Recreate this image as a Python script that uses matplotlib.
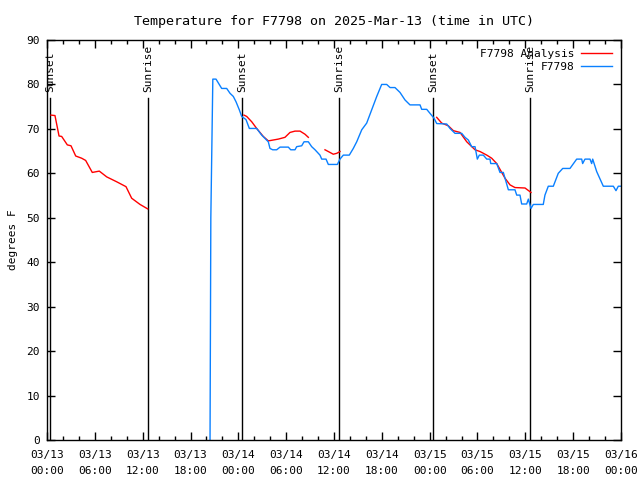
import matplotlib
matplotlib.use("Agg")
import matplotlib.pyplot as plt
import numpy as np

# hours since 03/13 00:00 UTC, temperatures in degrees F
analysis_hours = [0.50, 1.00, 1.51, 1.84, 2.55, 3.01, 3.60, 4.35, 4.85, 5.68, 6.56, 7.49, 8.74,
                  9.91, 10.62, 11.67, 12.63, np.nan,
                  24.71, 25.05, 25.68, 26.30, 27.13, 27.76, 28.39, 29.01, 29.85, 30.48, 31.11,
                  31.74, 32.36, 32.78, np.nan,
                  34.87, 35.50, 35.91, 36.34, 36.75, np.nan,
                  48.88, 49.51, 50.34, 50.97, 51.81, 52.65, 53.69, 54.32, 55.16, 55.78, 56.41,
                  56.82, 57.45, 58.08, 58.70, 59.96, 60.71]
analysis_temp = [73.1, 73.0, 68.4, 68.3, 66.4, 66.2, 63.9, 63.4, 62.9, 60.2, 60.5, 59.2, 58.1,
                 57.0, 54.4, 53.0, 52.0, np.nan,
                 73.1, 72.8, 71.6, 70.1, 68.3, 67.3, 67.5, 67.7, 68.1, 69.2, 69.5,
                 69.5, 68.8, 68.1, np.nan,
                 65.3, 64.7, 64.3, 64.5, 64.9, np.nan,
                 72.6, 71.3, 70.7, 69.6, 69.2, 67.1, 65.3, 64.9, 64.1, 63.4, 62.2,
                 60.9, 58.9, 57.4, 56.8, 56.7, 55.7]

obs_hours = [20.45, 20.55, 20.8, 21.20, 21.91, 22.54, 22.96, 23.37, 23.71, 24.12, 24.42, 24.96,
             25.38, 26.30, 26.93, 27.76, 27.97, 28.31, 28.81, 29.23, 30.27, 30.57, 31.11,
             31.32, 31.95, 32.24, 32.78, 33.20, 33.62, 34.24, 34.46, 35.00, 35.29, 36.42,
             36.75, 37.17, 37.92, 38.42, 38.85, 39.48, 40.10, 40.73, 41.36, 41.98, 42.61,
             43.03, 43.65, 44.28, 44.91, 45.53, 46.79, 47.00, 47.63, 48.04, 48.55, 48.88,
             50.14, 50.55, 51.18, 52.02, 52.43, 52.85, 53.27, 53.69, 53.98, 54.23, 54.73,
             55.16, 55.57, 55.66, 56.41, 56.82, 57.24, 57.58, 57.87, 58.70, 58.92, 59.33,
             59.54, 60.17, 60.38, 60.71, 61.00, 62.25, 62.46, 62.88, 63.51, 64.13, 64.69,
             65.60, 66.44, 67.07, 67.19, 67.48, 68.11, 68.32, 68.45, 68.95, 69.78, 71.04,
             71.37, 71.66, 72.0]
obs_temp = [0.0, 50.0, 81.2, 81.2, 79.1, 79.1, 78.0, 77.3, 76.1, 74.3, 72.8, 72.1,
            70.1, 70.1, 68.6, 67.1, 65.6, 65.3, 65.3, 65.9, 65.9, 65.3, 65.3,
            66.0, 66.2, 67.1, 67.1, 66.0, 65.3, 64.1, 63.2, 63.2, 62.0, 62.0,
            63.2, 64.1, 64.1, 65.6, 67.1, 69.8, 71.3, 74.3, 77.3, 80.0, 80.0,
            79.3, 79.3, 78.2, 76.5, 75.4, 75.4, 74.4, 74.4, 73.5, 72.4, 71.2,
            71.1, 70.1, 69.0, 69.0, 68.1, 67.5, 66.0, 66.0, 63.2, 64.1, 64.1,
            63.2, 63.2, 62.2, 62.2, 60.2, 60.2, 58.1, 56.3, 56.3, 55.1, 55.1,
            53.1, 53.1, 54.2, 52.1, 53.0, 53.0, 55.1, 57.1, 57.1, 60.0, 61.1,
            61.1, 63.2, 63.2, 62.2, 63.2, 63.2, 62.2, 63.2, 60.4, 57.1, 57.1,
            56.1, 57.1, 57.1]

sun_hours = [0.38, 12.67, 24.46, 36.63, 48.42, 60.59]
sun_labels = ["Sunset", "Sunrise", "Sunset", "Sunrise", "Sunset", "Sunrise"]

tick_hours = list(range(0, 73, 6))
tick_labels = ["03/13\n00:00", "03/13\n06:00", "03/13\n12:00", "03/13\n18:00",
               "03/14\n00:00", "03/14\n06:00", "03/14\n12:00", "03/14\n18:00",
               "03/15\n00:00", "03/15\n06:00", "03/15\n12:00", "03/15\n18:00",
               "03/16\n00:00"]

plt.rcParams['font.family'] = ['DejaVu Sans Mono']
plt.rcParams['font.size'] = 8

fig = plt.figure(figsize=(6.4, 4.8), dpi=100)
ax = fig.add_axes([47 / 640, 40 / 480, 574 / 640, 400 / 480])

for h, lab in zip(sun_hours, sun_labels):
    ax.plot([h, h], [0, 76.9], color='black', lw=1)
    ax.text(h, 78.3, lab, rotation=90, ha='center', va='bottom')

ax.plot(analysis_hours, analysis_temp, color='#ff0000', lw=1, label='F7798 Analysis')
ax.plot(obs_hours, obs_temp, color='#0a80ff', lw=1, label='F7798')

ax.set_xlim(0, 72)
ax.set_ylim(0, 90)
ax.set_xticks(tick_hours)
ax.set_xticklabels(tick_labels, linespacing=1.8)
ax.set_xticks(range(0, 73, 2), minor=True)
ax.set_yticks(range(0, 91, 10))
ax.tick_params(which='both', direction='in', top=True, right=True, width=1)
ax.tick_params(which='major', length=6, pad=5)
ax.tick_params(axis='x', which='major', pad=7)
ax.tick_params(which='minor', length=3)
for s in ax.spines.values():
    s.set_linewidth(1)

ax.set_ylabel('degrees F', labelpad=6)
ax.set_title('Temperature for F7798 on 2025-Mar-13 (time in UTC)', pad=11)

leg = ax.legend(loc='upper right', frameon=False, markerfirst=False,
                handlelength=2.8, handletextpad=0.6, borderaxespad=0.4,
                labelspacing=0.25)
for t in leg.get_texts():
    t.set_ha('right')

fig.savefig('out.png', dpi=100)
